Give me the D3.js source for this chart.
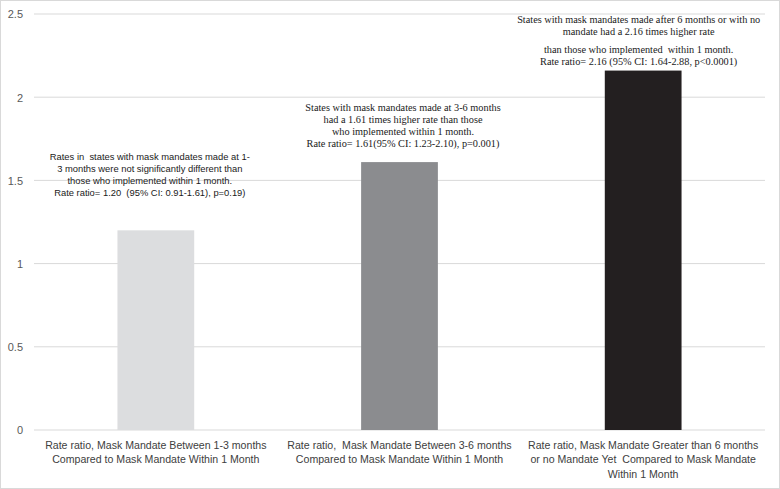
<!DOCTYPE html>
<html><head><meta charset="utf-8">
<script src="https://cdn.jsdelivr.net/npm/d3@7"></script>
<style>body{margin:0;background:#fff}svg{display:block}text{white-space:pre}</style>
</head><body>
<script>
const categories = [
  ["Rate ratio, Mask Mandate Between 1-3 months", "Compared to Mask Mandate Within 1 Month"],
  ["Rate ratio,  Mask Mandate Between 3-6 months", "Compared to Mask Mandate Within 1 Month"],
  ["Rate ratio, Mask Mandate Greater than 6 months", "or no Mandate Yet  Compared to Mask Mandate", "Within 1 Month"]
];
const values = [1.20, 1.61, 2.16];
const barColors = ["#dcdddf", "#8b8c8f", "#231f20"];
const yTicks = [0, 0.5, 1, 1.5, 2, 2.5];
const annotations = [
  ["Rates in  states with mask mandates made at 1-", "3 months were not significantly different than", "those who implemented within 1 month.", "Rate ratio= 1.20  (95% CI: 0.91-1.61), p=0.19)"],
  ["States with mask mandates made at 3-6 months", "had a 1.61 times higher rate than those", "who implemented within 1 month.", "Rate ratio= 1.61(95% CI: 1.23-2.10), p=0.001)"],
  ["States with mask mandates made after 6 months or with no", "mandate had a 2.16 times higher rate", "than those who implemented  within 1 month.", "Rate ratio= 2.16 (95% CI: 1.64-2.88, p<0.0001)"]
];

const W = 780, H = 489;
const svg = d3.select("body").append("svg").attr("width", W).attr("height", H);
svg.append("rect").attr("x", 0.5).attr("y", 0.5).attr("width", W - 1).attr("height", H - 1)
  .attr("fill", "#fff").attr("stroke", "#d9d9d9");

const x0 = 34, x1 = 765, yTop = 14, yBot = 430;
const x = d3.scaleBand().domain(d3.range(categories.length)).range([x0, x1]).paddingInner(0.685).paddingOuter(0.3425);
const y = d3.scaleLinear().domain([0, 2.5]).range([yBot, yTop]);

const sans = "'Liberation Sans', Arial, sans-serif";
const serif = "'Liberation Serif', 'Times New Roman', serif";

// gridlines
svg.append("g").selectAll("line").data(yTicks).join("line")
  .attr("x1", x0).attr("x2", x1).attr("y1", d => y(d)).attr("y2", d => y(d))
  .attr("stroke", "#d9d9d9").attr("stroke-width", 1);

// y axis labels
const yAxis = d3.axisLeft(y).tickValues(yTicks).tickSize(0).tickPadding(0).tickFormat(d3.format("~g"));
svg.append("g").attr("transform", `translate(23,0)`).call(yAxis)
  .call(g => g.select(".domain").remove())
  .selectAll("text").attr("font-family", sans).attr("font-size", 11).attr("fill", "#595959").attr("dy", "0.35em");

// bars
svg.append("g").selectAll("rect").data(values).join("rect")
  .attr("x", (d, i) => x(i)).attr("width", x.bandwidth())
  .attr("y", d => y(d)).attr("height", d => y(0) - y(d))
  .attr("fill", (d, i) => barColors[i]);

// x labels
categories.forEach((lines, i) => {
  const cx = x(i) + x.bandwidth() / 2;
  const t = svg.append("text").attr("text-anchor", "middle").attr("font-family", sans)
    .attr("font-size", 10.6).attr("fill", "#404040").attr("xml:space", "preserve");
  lines.forEach((l, j) => t.append("tspan").attr("x", cx).attr("y", 449 + j * 14.3).text(l));
});

// annotations
const annY = [[159.5, 171.8, 184.1, 196.4], [110.5, 122.8, 135.1, 147.4], [22.5, 34.8, 53, 65.3]];
const annFont = [sans, serif, serif];
const annSize = [9.4, 10.3, 10.3];
const annShift = [-6, 3.5, -4.5];
annotations.forEach((lines, i) => {
  const cx = x(i) + x.bandwidth() / 2 + annShift[i];
  const t = svg.append("text").attr("text-anchor", "middle").attr("font-family", annFont[i])
    .attr("font-size", annSize[i]).attr("fill", "#1a1a1a").attr("xml:space", "preserve");
  lines.forEach((l, j) => t.append("tspan").attr("x", cx).attr("y", annY[i][j]).text(l));
});
</script>
</body></html>
